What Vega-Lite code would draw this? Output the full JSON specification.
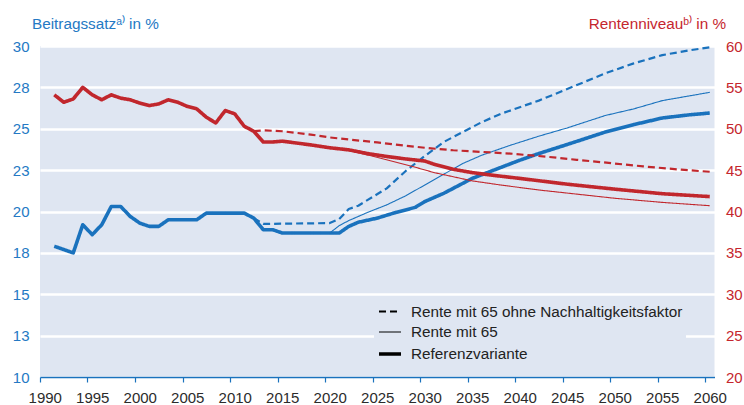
{
  "$schema": "https://vega.github.io/schema/vega-lite/v6.json",
  "width": 674.5,
  "height": 331,
  "autosize": {"type": "none"},
  "padding": {"left": 40, "top": 46, "right": 29.5, "bottom": 28},
  "background": "white",
  "config": {
    "font": "Liberation Sans",
    "view": {"fill": "#dfe6f2", "stroke": null},
    "axis": {"labelFont": "Liberation Sans", "labelFontSize": 15, "titleFont": "Liberation Sans", "titleFontSize": 15.3, "titleFontWeight": "normal"},
    "legend": {
      "orient": "none", "legendX": 334, "legendY": 250, "fillColor": "#dfe6f2", "padding": 3,
      "labelFont": "Liberation Sans", "labelFontSize": 15.3, "labelColor": "#222222", "labelOffset": 8, "labelLimit": 400,
      "symbolType": "stroke", "symbolStrokeColor": "black", "symbolSize": 484, "rowPadding": -4.5, "direction": "vertical"
    }
  },
  "data": {"values": [
    {"year": 1991, "variant": "Referenzvariante", "measure": "Beitragssatz", "value": 17.9},
    {"year": 1992, "variant": "Referenzvariante", "measure": "Beitragssatz", "value": 17.7},
    {"year": 1993, "variant": "Referenzvariante", "measure": "Beitragssatz", "value": 17.5},
    {"year": 1994, "variant": "Referenzvariante", "measure": "Beitragssatz", "value": 19.2},
    {"year": 1995, "variant": "Referenzvariante", "measure": "Beitragssatz", "value": 18.6},
    {"year": 1996, "variant": "Referenzvariante", "measure": "Beitragssatz", "value": 19.2},
    {"year": 1997, "variant": "Referenzvariante", "measure": "Beitragssatz", "value": 20.3},
    {"year": 1998, "variant": "Referenzvariante", "measure": "Beitragssatz", "value": 20.3},
    {"year": 1999, "variant": "Referenzvariante", "measure": "Beitragssatz", "value": 19.7},
    {"year": 2000, "variant": "Referenzvariante", "measure": "Beitragssatz", "value": 19.3},
    {"year": 2001, "variant": "Referenzvariante", "measure": "Beitragssatz", "value": 19.1},
    {"year": 2002, "variant": "Referenzvariante", "measure": "Beitragssatz", "value": 19.1},
    {"year": 2003, "variant": "Referenzvariante", "measure": "Beitragssatz", "value": 19.5},
    {"year": 2004, "variant": "Referenzvariante", "measure": "Beitragssatz", "value": 19.5},
    {"year": 2005, "variant": "Referenzvariante", "measure": "Beitragssatz", "value": 19.5},
    {"year": 2006, "variant": "Referenzvariante", "measure": "Beitragssatz", "value": 19.5},
    {"year": 2007, "variant": "Referenzvariante", "measure": "Beitragssatz", "value": 19.9},
    {"year": 2008, "variant": "Referenzvariante", "measure": "Beitragssatz", "value": 19.9},
    {"year": 2009, "variant": "Referenzvariante", "measure": "Beitragssatz", "value": 19.9},
    {"year": 2010, "variant": "Referenzvariante", "measure": "Beitragssatz", "value": 19.9},
    {"year": 2011, "variant": "Referenzvariante", "measure": "Beitragssatz", "value": 19.9},
    {"year": 2012, "variant": "Referenzvariante", "measure": "Beitragssatz", "value": 19.6},
    {"year": 2013, "variant": "Referenzvariante", "measure": "Beitragssatz", "value": 18.9},
    {"year": 2014, "variant": "Referenzvariante", "measure": "Beitragssatz", "value": 18.9},
    {"year": 2015, "variant": "Referenzvariante", "measure": "Beitragssatz", "value": 18.7},
    {"year": 2021, "variant": "Referenzvariante", "measure": "Beitragssatz", "value": 18.7},
    {"year": 2022, "variant": "Referenzvariante", "measure": "Beitragssatz", "value": 19.1},
    {"year": 2023, "variant": "Referenzvariante", "measure": "Beitragssatz", "value": 19.35},
    {"year": 2025, "variant": "Referenzvariante", "measure": "Beitragssatz", "value": 19.6},
    {"year": 2027, "variant": "Referenzvariante", "measure": "Beitragssatz", "value": 19.95},
    {"year": 2029, "variant": "Referenzvariante", "measure": "Beitragssatz", "value": 20.25},
    {"year": 2030, "variant": "Referenzvariante", "measure": "Beitragssatz", "value": 20.6},
    {"year": 2032, "variant": "Referenzvariante", "measure": "Beitragssatz", "value": 21.1},
    {"year": 2033, "variant": "Referenzvariante", "measure": "Beitragssatz", "value": 21.4},
    {"year": 2035, "variant": "Referenzvariante", "measure": "Beitragssatz", "value": 22.0},
    {"year": 2040, "variant": "Referenzvariante", "measure": "Beitragssatz", "value": 23.1},
    {"year": 2042, "variant": "Referenzvariante", "measure": "Beitragssatz", "value": 23.5},
    {"year": 2045, "variant": "Referenzvariante", "measure": "Beitragssatz", "value": 24.05},
    {"year": 2049, "variant": "Referenzvariante", "measure": "Beitragssatz", "value": 24.8},
    {"year": 2052, "variant": "Referenzvariante", "measure": "Beitragssatz", "value": 25.25},
    {"year": 2055, "variant": "Referenzvariante", "measure": "Beitragssatz", "value": 25.65},
    {"year": 2058, "variant": "Referenzvariante", "measure": "Beitragssatz", "value": 25.85},
    {"year": 2060, "variant": "Referenzvariante", "measure": "Beitragssatz", "value": 25.95},

    {"year": 2020, "variant": "Rente mit 65", "measure": "Beitragssatz", "value": 18.7},
    {"year": 2021, "variant": "Rente mit 65", "measure": "Beitragssatz", "value": 19.15},
    {"year": 2022, "variant": "Rente mit 65", "measure": "Beitragssatz", "value": 19.45},
    {"year": 2024, "variant": "Rente mit 65", "measure": "Beitragssatz", "value": 19.95},
    {"year": 2026, "variant": "Rente mit 65", "measure": "Beitragssatz", "value": 20.4},
    {"year": 2028, "variant": "Rente mit 65", "measure": "Beitragssatz", "value": 20.95},
    {"year": 2030, "variant": "Rente mit 65", "measure": "Beitragssatz", "value": 21.6},
    {"year": 2032, "variant": "Rente mit 65", "measure": "Beitragssatz", "value": 22.25},
    {"year": 2034, "variant": "Rente mit 65", "measure": "Beitragssatz", "value": 22.9},
    {"year": 2036, "variant": "Rente mit 65", "measure": "Beitragssatz", "value": 23.4},
    {"year": 2039, "variant": "Rente mit 65", "measure": "Beitragssatz", "value": 24.0},
    {"year": 2042, "variant": "Rente mit 65", "measure": "Beitragssatz", "value": 24.55},
    {"year": 2045, "variant": "Rente mit 65", "measure": "Beitragssatz", "value": 25.05},
    {"year": 2049, "variant": "Rente mit 65", "measure": "Beitragssatz", "value": 25.8},
    {"year": 2052, "variant": "Rente mit 65", "measure": "Beitragssatz", "value": 26.2},
    {"year": 2055, "variant": "Rente mit 65", "measure": "Beitragssatz", "value": 26.7},
    {"year": 2058, "variant": "Rente mit 65", "measure": "Beitragssatz", "value": 27.0},
    {"year": 2060, "variant": "Rente mit 65", "measure": "Beitragssatz", "value": 27.2},

    {"year": 2012, "variant": "Rente mit 65 ohne Nachhaltigkeitsfaktor", "measure": "Beitragssatz", "value": 19.6},
    {"year": 2013, "variant": "Rente mit 65 ohne Nachhaltigkeitsfaktor", "measure": "Beitragssatz", "value": 19.25},
    {"year": 2020, "variant": "Rente mit 65 ohne Nachhaltigkeitsfaktor", "measure": "Beitragssatz", "value": 19.3},
    {"year": 2021, "variant": "Rente mit 65 ohne Nachhaltigkeitsfaktor", "measure": "Beitragssatz", "value": 19.55},
    {"year": 2022, "variant": "Rente mit 65 ohne Nachhaltigkeitsfaktor", "measure": "Beitragssatz", "value": 20.15},
    {"year": 2023, "variant": "Rente mit 65 ohne Nachhaltigkeitsfaktor", "measure": "Beitragssatz", "value": 20.35},
    {"year": 2024, "variant": "Rente mit 65 ohne Nachhaltigkeitsfaktor", "measure": "Beitragssatz", "value": 20.7},
    {"year": 2026, "variant": "Rente mit 65 ohne Nachhaltigkeitsfaktor", "measure": "Beitragssatz", "value": 21.4},
    {"year": 2028, "variant": "Rente mit 65 ohne Nachhaltigkeitsfaktor", "measure": "Beitragssatz", "value": 22.45},
    {"year": 2030, "variant": "Rente mit 65 ohne Nachhaltigkeitsfaktor", "measure": "Beitragssatz", "value": 23.35},
    {"year": 2032, "variant": "Rente mit 65 ohne Nachhaltigkeitsfaktor", "measure": "Beitragssatz", "value": 24.2},
    {"year": 2034, "variant": "Rente mit 65 ohne Nachhaltigkeitsfaktor", "measure": "Beitragssatz", "value": 24.8},
    {"year": 2036, "variant": "Rente mit 65 ohne Nachhaltigkeitsfaktor", "measure": "Beitragssatz", "value": 25.4},
    {"year": 2038, "variant": "Rente mit 65 ohne Nachhaltigkeitsfaktor", "measure": "Beitragssatz", "value": 25.9},
    {"year": 2042, "variant": "Rente mit 65 ohne Nachhaltigkeitsfaktor", "measure": "Beitragssatz", "value": 26.7},
    {"year": 2045, "variant": "Rente mit 65 ohne Nachhaltigkeitsfaktor", "measure": "Beitragssatz", "value": 27.4},
    {"year": 2049, "variant": "Rente mit 65 ohne Nachhaltigkeitsfaktor", "measure": "Beitragssatz", "value": 28.35},
    {"year": 2052, "variant": "Rente mit 65 ohne Nachhaltigkeitsfaktor", "measure": "Beitragssatz", "value": 28.95},
    {"year": 2055, "variant": "Rente mit 65 ohne Nachhaltigkeitsfaktor", "measure": "Beitragssatz", "value": 29.45},
    {"year": 2058, "variant": "Rente mit 65 ohne Nachhaltigkeitsfaktor", "measure": "Beitragssatz", "value": 29.75},
    {"year": 2060, "variant": "Rente mit 65 ohne Nachhaltigkeitsfaktor", "measure": "Beitragssatz", "value": 29.92},

    {"year": 1991, "variant": "Referenzvariante", "measure": "Rentenniveau", "value": 54.1},
    {"year": 1992, "variant": "Referenzvariante", "measure": "Rentenniveau", "value": 53.2},
    {"year": 1993, "variant": "Referenzvariante", "measure": "Rentenniveau", "value": 53.6},
    {"year": 1994, "variant": "Referenzvariante", "measure": "Rentenniveau", "value": 55.0},
    {"year": 1995, "variant": "Referenzvariante", "measure": "Rentenniveau", "value": 54.1},
    {"year": 1996, "variant": "Referenzvariante", "measure": "Rentenniveau", "value": 53.5},
    {"year": 1997, "variant": "Referenzvariante", "measure": "Rentenniveau", "value": 54.1},
    {"year": 1998, "variant": "Referenzvariante", "measure": "Rentenniveau", "value": 53.7},
    {"year": 1999, "variant": "Referenzvariante", "measure": "Rentenniveau", "value": 53.5},
    {"year": 2000, "variant": "Referenzvariante", "measure": "Rentenniveau", "value": 53.1},
    {"year": 2001, "variant": "Referenzvariante", "measure": "Rentenniveau", "value": 52.8},
    {"year": 2002, "variant": "Referenzvariante", "measure": "Rentenniveau", "value": 53.0},
    {"year": 2003, "variant": "Referenzvariante", "measure": "Rentenniveau", "value": 53.5},
    {"year": 2004, "variant": "Referenzvariante", "measure": "Rentenniveau", "value": 53.2},
    {"year": 2005, "variant": "Referenzvariante", "measure": "Rentenniveau", "value": 52.7},
    {"year": 2006, "variant": "Referenzvariante", "measure": "Rentenniveau", "value": 52.4},
    {"year": 2007, "variant": "Referenzvariante", "measure": "Rentenniveau", "value": 51.4},
    {"year": 2008, "variant": "Referenzvariante", "measure": "Rentenniveau", "value": 50.7},
    {"year": 2009, "variant": "Referenzvariante", "measure": "Rentenniveau", "value": 52.2},
    {"year": 2010, "variant": "Referenzvariante", "measure": "Rentenniveau", "value": 51.8},
    {"year": 2011, "variant": "Referenzvariante", "measure": "Rentenniveau", "value": 50.3},
    {"year": 2012, "variant": "Referenzvariante", "measure": "Rentenniveau", "value": 49.7},
    {"year": 2013, "variant": "Referenzvariante", "measure": "Rentenniveau", "value": 48.4},
    {"year": 2014, "variant": "Referenzvariante", "measure": "Rentenniveau", "value": 48.4},
    {"year": 2015, "variant": "Referenzvariante", "measure": "Rentenniveau", "value": 48.5},
    {"year": 2016, "variant": "Referenzvariante", "measure": "Rentenniveau", "value": 48.35},
    {"year": 2018, "variant": "Referenzvariante", "measure": "Rentenniveau", "value": 48.05},
    {"year": 2020, "variant": "Referenzvariante", "measure": "Rentenniveau", "value": 47.7},
    {"year": 2022, "variant": "Referenzvariante", "measure": "Rentenniveau", "value": 47.45},
    {"year": 2024, "variant": "Referenzvariante", "measure": "Rentenniveau", "value": 47.0},
    {"year": 2026, "variant": "Referenzvariante", "measure": "Rentenniveau", "value": 46.65},
    {"year": 2028, "variant": "Referenzvariante", "measure": "Rentenniveau", "value": 46.35},
    {"year": 2030, "variant": "Referenzvariante", "measure": "Rentenniveau", "value": 46.1},
    {"year": 2031, "variant": "Referenzvariante", "measure": "Rentenniveau", "value": 45.7},
    {"year": 2033, "variant": "Referenzvariante", "measure": "Rentenniveau", "value": 45.1},
    {"year": 2035, "variant": "Referenzvariante", "measure": "Rentenniveau", "value": 44.7},
    {"year": 2037, "variant": "Referenzvariante", "measure": "Rentenniveau", "value": 44.4},
    {"year": 2040, "variant": "Referenzvariante", "measure": "Rentenniveau", "value": 44.0},
    {"year": 2045, "variant": "Referenzvariante", "measure": "Rentenniveau", "value": 43.3},
    {"year": 2050, "variant": "Referenzvariante", "measure": "Rentenniveau", "value": 42.7},
    {"year": 2055, "variant": "Referenzvariante", "measure": "Rentenniveau", "value": 42.15},
    {"year": 2060, "variant": "Referenzvariante", "measure": "Rentenniveau", "value": 41.8},

    {"year": 2022, "variant": "Rente mit 65", "measure": "Rentenniveau", "value": 47.45},
    {"year": 2023, "variant": "Rente mit 65", "measure": "Rentenniveau", "value": 47.1},
    {"year": 2025, "variant": "Rente mit 65", "measure": "Rentenniveau", "value": 46.55},
    {"year": 2027, "variant": "Rente mit 65", "measure": "Rentenniveau", "value": 45.95},
    {"year": 2029, "variant": "Rente mit 65", "measure": "Rentenniveau", "value": 45.35},
    {"year": 2031, "variant": "Rente mit 65", "measure": "Rentenniveau", "value": 44.7},
    {"year": 2033, "variant": "Rente mit 65", "measure": "Rentenniveau", "value": 44.2},
    {"year": 2035, "variant": "Rente mit 65", "measure": "Rentenniveau", "value": 43.7},
    {"year": 2038, "variant": "Rente mit 65", "measure": "Rentenniveau", "value": 43.2},
    {"year": 2042, "variant": "Rente mit 65", "measure": "Rentenniveau", "value": 42.6},
    {"year": 2046, "variant": "Rente mit 65", "measure": "Rentenniveau", "value": 42.1},
    {"year": 2050, "variant": "Rente mit 65", "measure": "Rentenniveau", "value": 41.6},
    {"year": 2055, "variant": "Rente mit 65", "measure": "Rentenniveau", "value": 41.1},
    {"year": 2060, "variant": "Rente mit 65", "measure": "Rentenniveau", "value": 40.7},

    {"year": 2012, "variant": "Rente mit 65 ohne Nachhaltigkeitsfaktor", "measure": "Rentenniveau", "value": 49.7},
    {"year": 2013, "variant": "Rente mit 65 ohne Nachhaltigkeitsfaktor", "measure": "Rentenniveau", "value": 49.8},
    {"year": 2015, "variant": "Rente mit 65 ohne Nachhaltigkeitsfaktor", "measure": "Rentenniveau", "value": 49.7},
    {"year": 2018, "variant": "Rente mit 65 ohne Nachhaltigkeitsfaktor", "measure": "Rentenniveau", "value": 49.3},
    {"year": 2020, "variant": "Rente mit 65 ohne Nachhaltigkeitsfaktor", "measure": "Rentenniveau", "value": 48.95},
    {"year": 2022, "variant": "Rente mit 65 ohne Nachhaltigkeitsfaktor", "measure": "Rentenniveau", "value": 48.7},
    {"year": 2025, "variant": "Rente mit 65 ohne Nachhaltigkeitsfaktor", "measure": "Rentenniveau", "value": 48.35},
    {"year": 2028, "variant": "Rente mit 65 ohne Nachhaltigkeitsfaktor", "measure": "Rentenniveau", "value": 47.95},
    {"year": 2030, "variant": "Rente mit 65 ohne Nachhaltigkeitsfaktor", "measure": "Rentenniveau", "value": 47.7},
    {"year": 2033, "variant": "Rente mit 65 ohne Nachhaltigkeitsfaktor", "measure": "Rentenniveau", "value": 47.4},
    {"year": 2036, "variant": "Rente mit 65 ohne Nachhaltigkeitsfaktor", "measure": "Rentenniveau", "value": 47.2},
    {"year": 2039, "variant": "Rente mit 65 ohne Nachhaltigkeitsfaktor", "measure": "Rentenniveau", "value": 47.0},
    {"year": 2043, "variant": "Rente mit 65 ohne Nachhaltigkeitsfaktor", "measure": "Rentenniveau", "value": 46.6},
    {"year": 2046, "variant": "Rente mit 65 ohne Nachhaltigkeitsfaktor", "measure": "Rentenniveau", "value": 46.25},
    {"year": 2050, "variant": "Rente mit 65 ohne Nachhaltigkeitsfaktor", "measure": "Rentenniveau", "value": 45.8},
    {"year": 2053, "variant": "Rente mit 65 ohne Nachhaltigkeitsfaktor", "measure": "Rentenniveau", "value": 45.45},
    {"year": 2057, "variant": "Rente mit 65 ohne Nachhaltigkeitsfaktor", "measure": "Rentenniveau", "value": 45.05},
    {"year": 2060, "variant": "Rente mit 65 ohne Nachhaltigkeitsfaktor", "measure": "Rentenniveau", "value": 44.8}
  ]},
  "encoding": {
    "x": {
      "field": "year", "type": "quantitative",
      "scale": {"domain": [1989.5, 2060.5], "nice": false, "zero": false},
      "axis": {
        "values": [1990, 1995, 2000, 2005, 2010, 2015, 2020, 2025, 2030, 2035, 2040, 2045, 2050, 2055, 2060],
        "format": "d", "title": null, "grid": false,
        "tickOffset": -4.75, "labelOffset": 4.75,
        "domainColor": "#1a72bd", "domainWidth": 1.5, "tickColor": "#1a72bd", "tickWidth": 1.2, "tickSize": 5,
        "labelColor": "#2b2b2b", "labelPadding": 8, "labelFlush": false, "labelOverlap": false, "labelBound": false
      }
    },
    "strokeDash": {
      "field": "variant", "type": "nominal",
      "scale": {"type": "ordinal", "domain": ["Rente mit 65 ohne Nachhaltigkeitsfaktor", "Rente mit 65", "Referenzvariante"], "range": [[7, 4], [1, 0], [1, 0]]},
      "legend": {"title": null, "symbolStrokeColor": "black"}
    },
    "strokeWidth": {
      "field": "variant", "type": "nominal",
      "scale": {"type": "ordinal", "domain": ["Rente mit 65 ohne Nachhaltigkeitsfaktor", "Rente mit 65", "Referenzvariante"], "range": [2.2, 1.1, 3.6]},
      "legend": {"title": null, "symbolStrokeColor": "black"}
    }
  },
  "layer": [
    {
      "transform": [{"filter": "datum.measure === 'Beitragssatz'"}],
      "mark": {"type": "line", "color": "#1a72bd", "strokeJoin": "round", "strokeCap": "butt"},
      "encoding": {
        "y": {
          "field": "value", "type": "quantitative",
          "scale": {"domain": [10, 30], "nice": false, "zero": false},
          "axis": {
            "orient": "left", "values": [10, 12.5, 15, 17.5, 20, 22.5, 25, 27.5, 30], "format": ".0f",
            "grid": true, "gridColor": "white", "gridWidth": 2.5, "domain": false, "ticks": false,
            "labelColor": "#2479c4", "labelPadding": 11,
            "title": "Beitragssatzᵃ⁾ in %", "titleColor": "#2479c4", "titleAngle": 0, "titleAlign": "left",
            "titleBaseline": "alphabetic", "titleX": -8.5, "titleY": -18
          }
        }
      }
    },
    {
      "transform": [{"filter": "datum.measure === 'Rentenniveau'"}],
      "mark": {"type": "line", "color": "#c1272d", "strokeJoin": "round", "strokeCap": "butt"},
      "encoding": {
        "y": {
          "field": "value", "type": "quantitative",
          "scale": {"domain": [20, 60], "nice": false, "zero": false},
          "axis": {
            "orient": "right", "values": [20, 25, 30, 35, 40, 45, 50, 55, 60], "format": "d",
            "grid": false, "domain": false, "ticks": false,
            "labelColor": "#c5262e", "labelPadding": 11,
            "title": "Rentenniveauᵇ⁾ in %", "titleColor": "#c5262e", "titleAngle": 0, "titleAlign": "right",
            "titleBaseline": "alphabetic", "titleX": 11, "titleY": -18
          }
        }
      }
    }
  ],
  "resolve": {"scale": {"y": "independent"}}
}
